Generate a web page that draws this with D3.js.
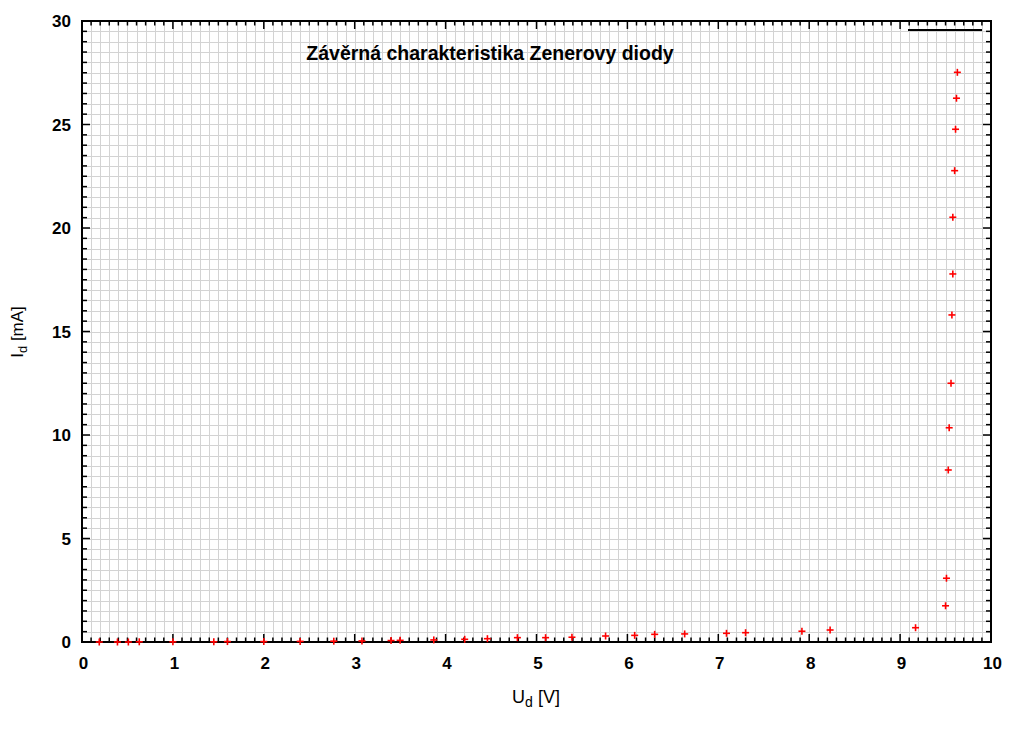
<!DOCTYPE html>
<html><head><meta charset="utf-8">
<script src="https://cdn.jsdelivr.net/npm/d3@7"></script>
<style>body{margin:0;background:#fff;}svg{display:block;font-family:"Liberation Sans",Arial,sans-serif;}</style>
</head><body><svg id="c" width="1024" height="732"></svg>
<script>
const title = "Závěrná charakteristika Zenerovy diody";
const voltage = [0.19,0.39,0.51,0.63,1.00,1.45,1.60,2.00,2.40,2.77,3.08,3.40,3.50,3.87,4.21,4.46,4.79,5.10,5.39,5.76,6.08,6.30,6.63,7.09,7.30,7.92,8.23,9.17,9.50,9.51,9.53,9.54,9.56,9.57,9.58,9.58,9.60,9.61,9.62,9.63];
const current = [0.00,0.00,0.00,0.01,0.01,0.01,0.02,0.02,0.03,0.04,0.05,0.07,0.08,0.10,0.13,0.16,0.21,0.21,0.23,0.29,0.32,0.37,0.39,0.42,0.45,0.52,0.58,0.69,1.75,3.08,8.31,10.35,12.50,15.80,17.78,20.52,22.77,24.77,26.27,27.52];
const xTicks = [0,1,2,3,4,5,6,7,8,9,10];
const yTicks = [0,5,10,15,20,25,30];

const svg = d3.select("#c");
const L=82, R=991, T=21, B=642;
const x = d3.scaleLinear().domain([0,10]).range([L,R]);
const y = d3.scaleLinear().domain([0,30]).range([B,T]);

const xMinor = d3.range(0,100.5,1).map(v=>v/10);
const yMinor = d3.range(0,60.5,1).map(v=>v/2);

// grid
const g = svg.append("g").attr("stroke","#d3d3d3").attr("stroke-width",1);
xMinor.forEach(v=>g.append("line").attr("x1",Math.round(x(v))+0.5).attr("x2",Math.round(x(v))+0.5).attr("y1",T).attr("y2",B));
yMinor.forEach(v=>g.append("line").attr("y1",Math.round(y(v))+0.5).attr("y2",Math.round(y(v))+0.5).attr("x1",L).attr("x2",R));

// ticks
const tk = svg.append("g").attr("stroke","#000").attr("stroke-width",1.5);
xMinor.forEach((v,i)=>{
  const len = (i%10===0)?8:4.5;
  const px = x(v);
  tk.append("line").attr("x1",px).attr("x2",px).attr("y1",B).attr("y2",B-len);
  tk.append("line").attr("x1",px).attr("x2",px).attr("y1",T).attr("y2",T+len);
});
yMinor.forEach((v,i)=>{
  const len = (i%10===0)?8:5;
  const py = y(v);
  tk.append("line").attr("y1",py).attr("y2",py).attr("x1",L).attr("x2",L+len);
  tk.append("line").attr("y1",py).attr("y2",py).attr("x1",R).attr("x2",R-len);
});

// frame
svg.append("rect").attr("x",L).attr("y",T).attr("width",R-L).attr("height",B-T)
  .attr("fill","none").attr("stroke","#000").attr("stroke-width",2);

// tick labels
svg.append("g").selectAll("text").data(xTicks).join("text")
  .attr("x",d=>x(d)+1.5).attr("y",669).attr("text-anchor","middle")
  .attr("font-size",17).attr("font-weight","bold").text(d=>d);
svg.append("g").selectAll("text").data(yTicks).join("text")
  .attr("x",71).attr("y",d=>y(d)+6).attr("text-anchor","end")
  .attr("font-size",17).attr("font-weight","bold").text(d=>d);

// axis titles
const xl = svg.append("text").attr("x",536).attr("y",703).attr("text-anchor","middle").attr("font-size",18);
xl.append("tspan").text("U");
xl.append("tspan").attr("dy",4).attr("font-size",14).text("d");
xl.append("tspan").attr("dy",-4).text(" [V]");
const yl = svg.append("text").attr("transform","translate(23,332) rotate(-90)").attr("text-anchor","middle").attr("font-size",17);
yl.append("tspan").text("I");
yl.append("tspan").attr("dy",4).attr("font-size",13).text("d");
yl.append("tspan").attr("dy",-4).text(" [mA]");

// title
svg.append("text").attr("x",490).attr("y",59.5).attr("text-anchor","middle")
  .attr("font-size",19.5).attr("font-weight","bold").text(title);

// legend line
svg.append("line").attr("x1",908).attr("x2",982).attr("y1",30).attr("y2",30).attr("stroke","#000").attr("stroke-width",2);

// points
const pts = svg.append("g").attr("stroke","#f00").attr("stroke-width",1.6);
voltage.forEach((v,i)=>{
  const px=x(v), py=y(current[i]), s=3.5;
  pts.append("line").attr("x1",px-s).attr("x2",px+s).attr("y1",py).attr("y2",py);
  pts.append("line").attr("x1",px).attr("x2",px).attr("y1",py-s).attr("y2",py+s);
});
</script></body></html>
